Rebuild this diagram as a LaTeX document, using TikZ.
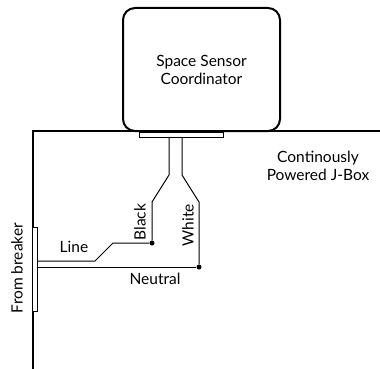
\documentclass[tikz,border=0pt]{standalone}
\usepackage{fontspec}
\setmainfont{Lato}
\usetikzlibrary{positioning}

\begin{document}
\begin{tikzpicture}[
    x=1pt, y=-1pt,
    device/.style={rectangle, draw, line width=2pt, rounded corners=12pt, minimum width=157pt, minimum height=123pt, align=center, font=\fontsize{15.5}{18}\selectfont},
    plate/.style={rectangle, draw, line width=1pt, fill=white, inner sep=0pt},
    lbl/.style={font=\fontsize{15.5}{18}\selectfont, inner sep=0pt, align=center},
    wire/.style={line width=1pt},
    dot/.style={circle, fill, inner sep=0pt, minimum size=5pt}
]
\useasboundingbox (0,0) rectangle (380,369);

% J-box outline
\draw[line width=2pt] (33,369) -- (33,131) -- (380,131);

% Sensor and its connector plate
\node[device] (sensor) at (201.5,69.5) {Space Sensor\\Coordinator};
\node[plate, minimum width=84pt, minimum height=5pt] (conn) at (181,134.5) {};

% Breaker feed
\node[plate, minimum width=4.5pt, minimum height=84pt] (breaker) at (35,269) {};

% Terminals
\node[dot] (bdot) at (152,243) {};
\node[dot] (wdot) at (199,267) {};

\coordinate (btop) at (169,137);
\coordinate (wtop) at (182,137);
\coordinate (linein) at (37.5,261);
\coordinate (neutin) at (37.5,267);

% Wires
\draw[wire] (btop) -- (169,175) -- (152,202) -- (bdot);
\draw[wire] (wtop) -- (182,175) -- (199,202) -- (wdot);
\draw[wire] (linein) -- (95,261) -- (113,243) -- (bdot);
\draw[wire] (neutin) -- (wdot);

% Labels
\node[lbl, rotate=90] (blacklbl) at (140,222) {Black};
\node[lbl, rotate=90] (whitelbl) at (188,225) {White};
\node[lbl] (neutlbl) at (155,279) {Neutral};
\node[lbl] (linelbl) at (74,247) {Line};
\node[lbl, rotate=90] (breakerlbl) at (17,268) {From breaker};
\node[lbl] (jboxlbl) at (318,166) {Continously\\Powered J-Box};

\end{tikzpicture}
\end{document}
